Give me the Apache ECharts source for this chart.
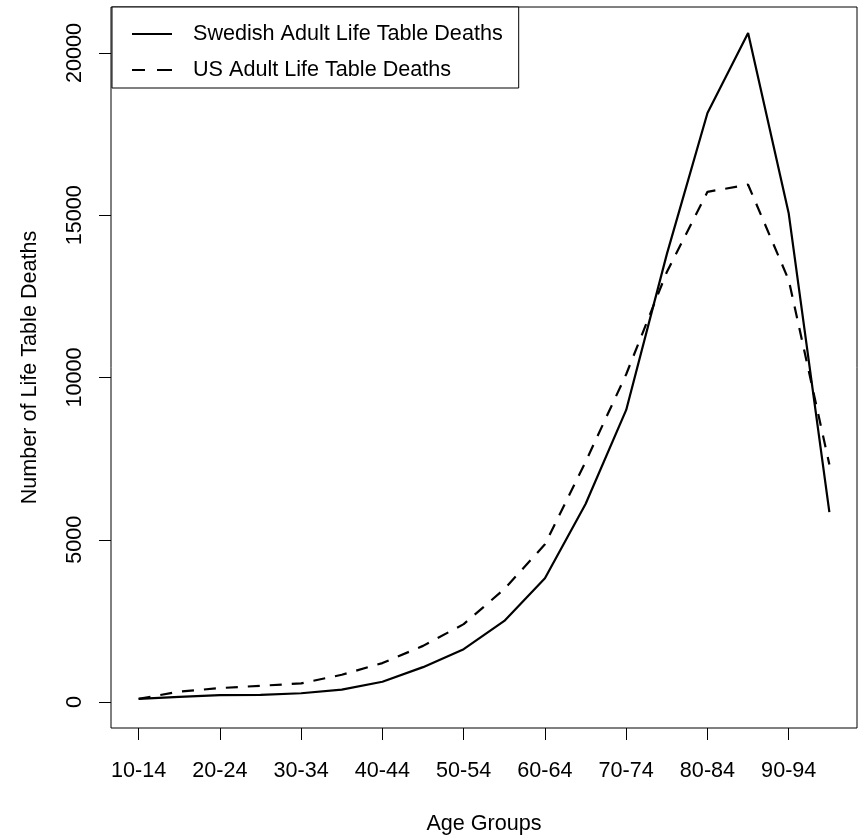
<!DOCTYPE html>
<html lang="en">
<head>
	<meta charset="UTF-8">
	<title>Adult Life Table Deaths</title>
	<script src="https://cdn.jsdelivr.net/npm/echarts@6/dist/echarts.min.js"></script>
	<style>
		body { margin: 0; background: #fff; }
	</style>
</head>
<body>
	<div id="main" style="width: 862px; height: 840px;"></div>
	<script>
		// age groups, one point each
		const ageGroups = ['10-14', '15-19', '20-24', '25-29', '30-34', '35-39', '40-44', '45-49', '50-54',
			'55-59', '60-64', '65-69', '70-74', '75-79', '80-84', '85-89', '90-94', '95-99']
		// values
		const swedishDeaths = [100, 160, 210, 220, 270, 380, 625, 1075, 1630, 2500, 3815, 6100, 9000, 13800, 18150, 20615, 15050, 5850]
		const usDeaths = [100, 320, 430, 500, 575, 840, 1200, 1730, 2400, 3480, 4860, 7400, 10100, 13250, 15720, 15940, 13000, 7320]
		// ticks: every other age group on x, 5000 steps on y
		const xTickPositions = [1, 3, 5, 7, 9, 11, 13, 15, 17]
		const yTickValues = [0, 5000, 10000, 15000, 20000]

		const font = '"Liberation Sans", Arial, sans-serif'
		const fontSize = 21.6

		function toPoints(values) {
			return values.map(function (v, i) { return [i + 1, v] })
		}

		const myChart = echarts.init(document.getElementById('main'))

		const option = {
			animation: false,
			backgroundColor: '#fff',
			grid: {
				left: 111,
				top: 7,
				width: 746,
				height: 722,
				show: true,
				borderColor: '#000',
				borderWidth: 1,
				backgroundColor: 'transparent'
			},
			legend: {
				orient: 'vertical',
				left: 112,
				top: 7,
				padding: [12, 16, 3, 20],
				itemWidth: 40,
				itemHeight: 2,
				itemGap: 6,
				borderColor: '#000',
				borderWidth: 1,
				backgroundColor: '#fff',
				itemStyle: { color: '#000' },
				textStyle: {
					fontFamily: font,
					fontSize: fontSize,
					color: '#000',
					lineHeight: 24,
					padding: [6, 0, 0, 16]
				},
				// plain line samples, solid and dashed
				data: [
					{ name: 'Swedish Adult Life Table Deaths', icon: 'path://M0,0H40V2H0Z' },
					{ name: 'US Adult Life Table Deaths', icon: 'path://M0,0H13V2H0Z M25,0H40V2H25Z' }
				]
			},
			xAxis: {
				type: 'value',
				min: 0.32,
				max: 18.68,
				name: 'Age Groups',
				nameLocation: 'middle',
				nameGap: 85,
				nameTextStyle: { fontFamily: font, fontSize: fontSize, color: '#000' },
				axisLine: { show: false, onZero: false },
				splitLine: { show: false },
				axisTick: {
					show: true,
					inside: false,
					length: 12,
					customValues: xTickPositions,
					lineStyle: { color: '#000', width: 1 }
				},
				axisLabel: {
					customValues: xTickPositions,
					margin: 32,
					fontFamily: font,
					fontSize: fontSize,
					color: '#000',
					formatter: function (v) { return ageGroups[Math.round(v) - 1] }
				}
			},
			yAxis: {
				type: 'value',
				min: -800,
				max: 21415,
				name: 'Number of Life Table Deaths',
				nameLocation: 'middle',
				nameRotate: 90,
				nameGap: 70,
				nameTextStyle: { fontFamily: font, fontSize: fontSize, color: '#000' },
				axisLine: { show: false, onZero: false },
				splitLine: { show: false },
				axisTick: {
					show: true,
					inside: false,
					length: 12,
					customValues: yTickValues,
					lineStyle: { color: '#000', width: 1 }
				},
				axisLabel: {
					customValues: yTickValues,
					rotate: 90,
					margin: 25,
					fontFamily: font,
					fontSize: fontSize,
					color: '#000',
					formatter: function (v) { return String(v) }
				}
			},
			series: [
				{
					name: 'Swedish Adult Life Table Deaths',
					type: 'line',
					symbol: 'none',
					data: toPoints(swedishDeaths),
					lineStyle: { color: '#000', width: 2.2, type: 'solid' },
					itemStyle: { color: '#000' }
				},
				{
					name: 'US Adult Life Table Deaths',
					type: 'line',
					symbol: 'none',
					data: toPoints(usDeaths),
					lineStyle: { color: '#000', width: 2.2, type: [12, 10] },
					itemStyle: { color: '#000' }
				}
			]
		}
		myChart.setOption(option)
	</script>
</body>
</html>
